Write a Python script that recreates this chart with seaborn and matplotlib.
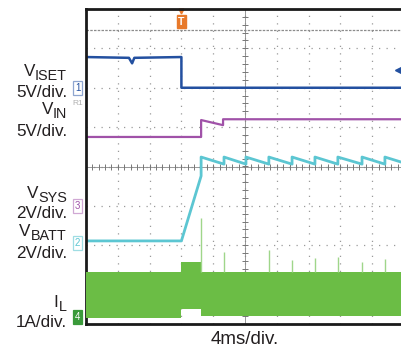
import numpy as np
import matplotlib
matplotlib.use("Agg")
import matplotlib.pyplot as plt
import seaborn as sns

# scope traces, in divisions (x: 0..10, y: -4..4 around centre line)
gray_x = [0, 10]
gray_y = [3.46, 3.46]

iset_x = [0, 1.35, 1.45, 1.52, 3.0, 3.0, 10]
iset_y = [2.78, 2.76, 2.62, 2.76, 2.78, 2.0, 2.0]

vin_x = [0, 3.62, 3.62, 4.31, 4.31, 10]
vin_y = [0.75, 0.75, 1.18, 1.05, 1.20, 1.20]

batt_x = [0, 3.0, 3.62]
batt_y = [-1.89, -1.89, -0.24]
saw_x = [3.62, 4.34, 5.03, 5.75, 6.48, 7.20, 7.92, 8.68, 9.40]
saw_peak = 0.24
saw_trough = 0.06
saw_end = 0.09

il_x = [0, 3.0, 3.62, 10]
il_top = [-2.68, -2.42, -2.68, -2.68]
il_bot = [-3.85, -3.62, -3.79, -3.79]
spike_x = [3.62, 4.34, 5.75, 6.48, 7.20, 7.92, 8.68, 9.40]
spike_top = [-1.31, -2.17, -2.12, -2.37, -2.32, -2.30, -2.42, -2.35]

W, H = 401, 354

sns.set_theme(style="white")
plt.rcParams['font.family'] = ['Liberation Sans', 'DejaVu Sans']

fig = plt.figure(figsize=(W / 100, H / 100), dpi=100)
ax = fig.add_axes([86 / W, (H - 324) / H, 318 / W, 315 / H])
ax.set_xlim(0, 10)
ax.set_ylim(-4, 4)

# graticule
ax.set_xticks(range(11))
ax.set_yticks(range(-4, 5))
ax.tick_params(length=0, labelbottom=False, labelleft=False)
ax.grid(True, color='#9a9a9a', linestyle=(0, (1, 5)), linewidth=0.9)
ax.axhline(0, color='#888888', lw=0.6, zorder=1)
ax.axvline(5, color='#888888', lw=0.6, zorder=1)
ax.plot(np.arange(0, 10.01, 0.2), np.zeros(51), '|', color='#777777', ms=4, mew=0.7)
ax.plot(np.full(41, 5.0), np.arange(-4, 4.01, 0.2), '_', color='#777777', ms=4, mew=0.7)
for s in ax.spines.values():
    s.set_color('#1a1a1a')
    s.set_linewidth(2.0)

# I_L band
ax.fill_between(il_x, il_top, il_bot, step='post', color='#6bbd45', lw=0, zorder=3)
ax.vlines(spike_x, -2.68, spike_top, color='#9fd68a', lw=1.0, zorder=3)

# traces
sns.lineplot(x=gray_x, y=gray_y, ax=ax, color='#8c8c8c', lw=0.9, linestyle=(0, (2, 1)))
sns.lineplot(x=iset_x, y=iset_y, ax=ax, sort=False, estimator=None, color='#2350a0', lw=1.8)
sns.lineplot(x=vin_x, y=vin_y, ax=ax, sort=False, estimator=None, color='#a052a8', lw=1.6)

bx = list(batt_x)
by = list(batt_y)
for i, xs in enumerate(saw_x):
    if i > 0:
        bx.append(xs)
        by.append(saw_trough)
    bx.append(xs)
    by.append(saw_peak)
bx.append(10)
by.append(saw_end)
sns.lineplot(x=bx, y=by, ax=ax, sort=False, estimator=None, color='#5cc6d2', lw=2.0)

# channel markers
mk = dict(fontsize=7, ha='center', va='center', clip_on=False, zorder=6)
ax.text(-0.26, 2.0, '1', color='#2350a0', bbox=dict(boxstyle='square,pad=0.2', fc='white', ec='#8fa6d0', lw=0.9), **mk)
ax.text(-0.26, 1.60, 'R1', color='#b0b0b0', fontsize=6, ha='center', va='center', clip_on=False)
ax.text(-0.26, -1.01, '3', color='#a052a8', bbox=dict(boxstyle='square,pad=0.2', fc='white', ec='#d0a8d4', lw=0.9), **mk)
ax.text(-0.26, -1.95, '2', color='#5cc6d2', bbox=dict(boxstyle='square,pad=0.2', fc='white', ec='#9fdde3', lw=0.9), **mk)
ax.text(-0.26, -3.82, '4', color='white', bbox=dict(boxstyle='square,pad=0.2', fc='#3a9a3a', ec='#3a9a3a', lw=0.9), **mk)
ax.plot([9.82], [2.45], marker='<', color='#2350a0', ms=4)
ax.plot([3.0], [3.95], marker='v', color='#e8792a', ms=3.5, clip_on=False)
ax.text(3.0, 3.68, 'T', color='white', fontsize=7.5, fontweight='bold', ha='center', va='center',
        bbox=dict(boxstyle='square,pad=0.15', fc='#e8792a', ec='#e8792a'))


def px(x, y):
    return x / W, 1 - y / H


# left labels: main letter, subscript, scale
labels = [
    ('V', 35, 'ISET', 76, '5V/div.', 97),
    ('V', 53, 'IN', 114, '5V/div.', 136),
    ('V', 38, 'SYS', 198, '2V/div.', 218),
    ('V', 30, 'BATT', 236, '2V/div.', 258),
    ('I', 58, 'L', 307, '1A/div.', 327),
]
for main, mx, sub, base, scale, sbase in labels:
    fig.text(*px(mx, base), main, fontsize=12.3, ha='right', va='baseline', color='#231f20')
    fig.text(*px(67, base + 4), sub, fontsize=10.4, ha='right', va='baseline', color='#231f20')
    fig.text(*px(67, sbase), scale, fontsize=12.3, ha='right', va='baseline', color='#231f20')

fig.text(*px(245, 340), '4ms/div.', fontsize=13.5, ha='center', va='center', color='#231f20')

fig.savefig('out.png', dpi=100, facecolor='white')
